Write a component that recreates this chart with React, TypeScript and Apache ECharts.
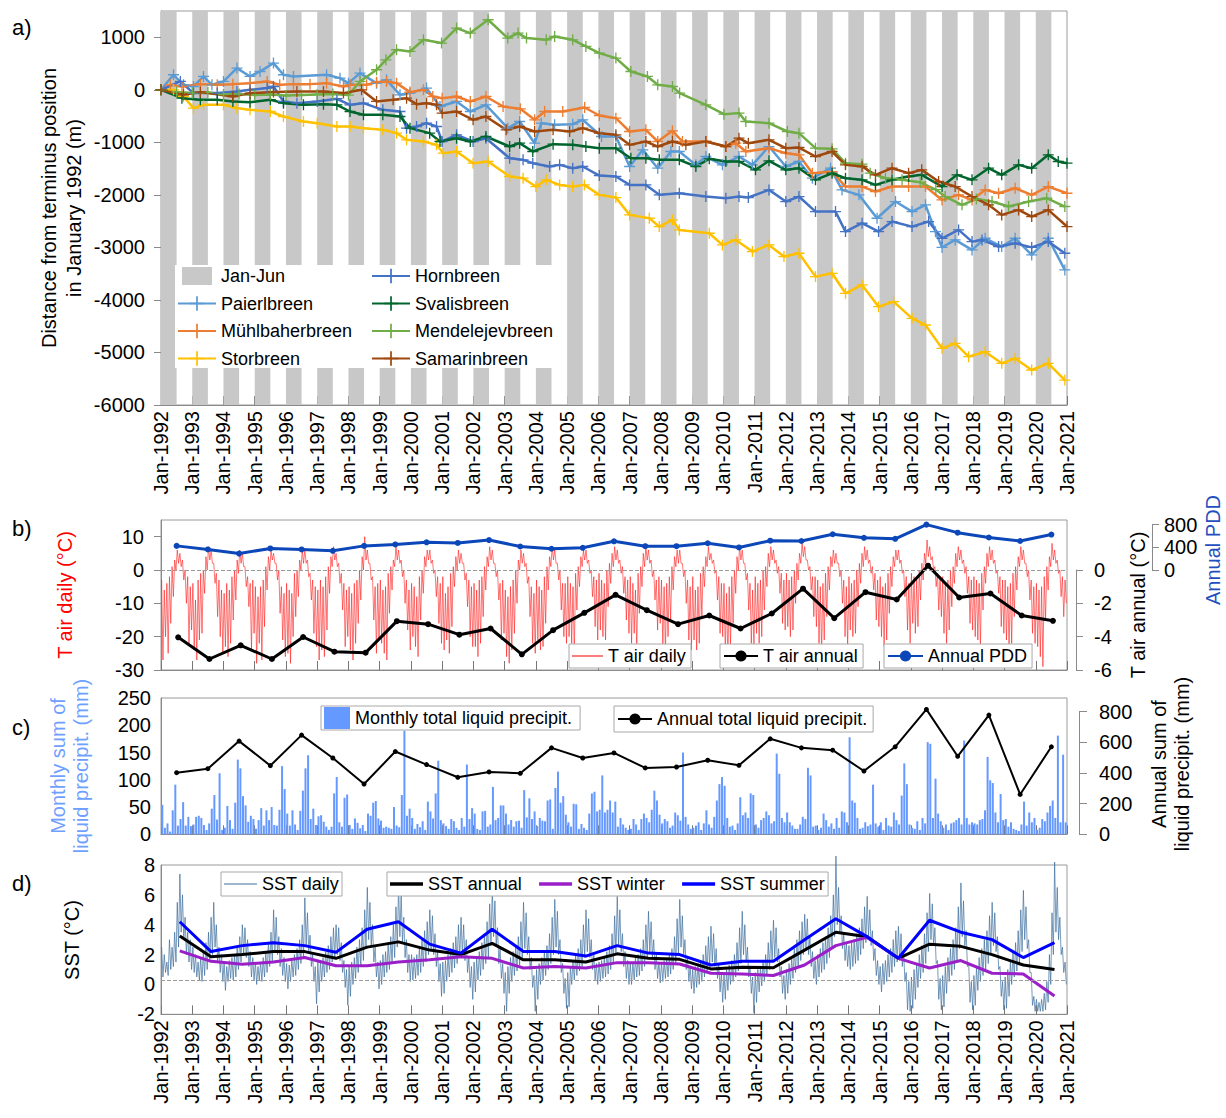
import React, { useEffect, useRef } from 'react';
import * as echarts from 'echarts';

const FONT = '"Liberation Sans", Arial, Helvetica, sans-serif';
const W = 1226;
const H = 1118;
const PLOT_LEFT = 161;
const PLOT_RIGHT = 1067;

// ---------- panel a: terminus positions (m, relative to Jan 1992) ----------
const shadeYears = Array.from({ length: 29 }, (_, i) => 1992 + i);

const paierlbreen = [[1992,0],[1992.4,286],[1992.72,95],[1993.04,63],[1993.36,254],[1993.63,95],[1994,159],[1994.43,413],[1994.85,254],[1995.17,349],[1995.6,508],[1995.92,286],[1996.24,254],[1997.3,286],[1997.73,222],[1998,127],[1998.37,318],[1998.9,127],[1999.22,190],[1999.65,-95],[1999.97,-63],[2000.5,32],[2000.93,-318],[2001.46,-222],[2001.9,-413],[2002.4,-286],[2003.1,-730],[2003.48,-603],[2003.96,-1016],[2004.17,-635],[2004.6,-667],[2005.18,-654],[2005.5,-571],[2006.1,-889],[2006.56,-889],[2007,-1460],[2007.42,-1143],[2007.9,-1492],[2008.32,-1175],[2008.59,-1175],[2009.12,-1429],[2009.44,-1270],[2009.97,-1429],[2010.5,-1270],[2010.93,-1429],[2011.46,-1080],[2012,-1460],[2012.42,-1365],[2012.85,-1683],[2013.43,-1492],[2013.8,-1905],[2014.34,-2000],[2014.92,-2445],[2015.51,-2127],[2016.04,-2318],[2016.47,-2190],[2016.79,-2700],[2017,-3000],[2017.42,-2858],[2017.96,-3048],[2018.38,-2826],[2018.91,-2985],[2019.34,-2826],[2019.87,-3143],[2020.4,-2826],[2020.93,-3429]];
const muhlbaherbreen = [[1992,0],[1992.3,95],[1992.67,63],[1993.26,108],[1993.8,95],[1994.3,108],[1994.85,127],[1995.4,159],[1995.8,95],[1996.24,108],[1996.77,108],[1997.3,127],[1997.84,63],[1998.05,95],[1998.58,95],[1998.9,146],[1999.22,159],[1999.54,127],[1999.97,-44],[2000.4,0],[2000.7,-127],[2001,-159],[2001.46,-127],[2001.9,-222],[2002.4,-127],[2002.95,-318],[2003.5,-362],[2003.96,-571],[2004.28,-413],[2004.86,-413],[2005.56,-337],[2006.03,-489],[2006.56,-540],[2007,-794],[2007.52,-762],[2007.9,-984],[2008.37,-781],[2008.69,-984],[2009.44,-984],[2010.08,-1080],[2010.4,-1016],[2010.72,-1175],[2011.46,-1111],[2012,-1207],[2012.42,-1238],[2012.85,-1588],[2013.48,-1556],[2013.91,-1842],[2014.44,-1842],[2014.87,-1937],[2015.4,-1842],[2015.93,-1842],[2016.47,-1842],[2017,-2096],[2017.53,-2000],[2017.96,-2096],[2018.38,-1905],[2018.81,-1969],[2019.34,-1873],[2019.87,-2000],[2020.4,-1842],[2021,-1969]];
const storbreen = [[1992,0],[1992.4,0],[1992.72,-127],[1993.04,-349],[1993.36,-286],[1994,-286],[1994.43,-349],[1994.85,-381],[1995.5,-413],[1995.92,-508],[1996.56,-603],[1997,-635],[1997.63,-698],[1998.05,-698],[1998.48,-730],[1999.1,-762],[1999.54,-825],[1999.86,-952],[2000.4,-984],[2000.82,-1048],[2001.04,-1207],[2001.46,-1175],[2001.99,-1397],[2002.47,-1365],[2003.16,-1651],[2003.59,-1683],[2004,-1842],[2004.33,-1714],[2004.76,-1810],[2005.18,-1842],[2005.55,-1810],[2006.03,-2000],[2006.56,-2051],[2007,-2381],[2007.63,-2445],[2007.95,-2604],[2008.37,-2477],[2008.59,-2667],[2009.55,-2731],[2009.97,-2953],[2010.4,-2858],[2010.93,-3080],[2011.46,-2953],[2011.94,-3175],[2012.42,-3112],[2012.95,-3556],[2013.48,-3493],[2013.91,-3874],[2014.44,-3715],[2014.97,-4128],[2015.45,-4033],[2016.04,-4350],[2016.47,-4477],[2017,-4922],[2017.42,-4826],[2017.85,-5080],[2018.38,-4985],[2018.91,-5207],[2019.34,-5112],[2019.87,-5334],[2020.4,-5207],[2020.93,-5525]];
const hornbreen = [[1992,0],[1992.62,159],[1993.04,-63],[1993.8,-63],[1994.43,-32],[1994.85,0],[1995.4,32],[1995.6,63],[1995.92,-222],[1996.35,-254],[1997,-222],[1997.63,-171],[1998.05,-286],[1998.48,-254],[1999.1,-381],[1999.65,-413],[1999.86,-730],[2000.18,-698],[2000.5,-635],[2000.82,-698],[2001,-984],[2001.46,-857],[2001.99,-984],[2002.4,-921],[2003.16,-1302],[2003.59,-1333],[2003.9,-1397],[2004.44,-1460],[2004.76,-1429],[2005.18,-1492],[2005.5,-1460],[2006.03,-1632],[2006.56,-1651],[2007,-1810],[2007.52,-1810],[2007.95,-2000],[2008.59,-1969],[2009.44,-2032],[2010.08,-2064],[2010.5,-2032],[2010.8,-2051],[2011.46,-1905],[2012,-2127],[2012.42,-2032],[2012.95,-2318],[2013.59,-2318],[2013.91,-2699],[2014.44,-2540],[2014.97,-2699],[2015.4,-2508],[2016.04,-2604],[2016.57,-2508],[2017,-2826],[2017.53,-2667],[2017.96,-2890],[2018.28,-2858],[2018.81,-2985],[2019.34,-2921],[2019.87,-3000],[2020.4,-2890],[2020.93,-3112]];
const svalisbreen = [[1992,0],[1992.67,-159],[1993.26,-190],[1993.8,-190],[1994.3,-222],[1994.85,-235],[1995.5,-190],[1995.92,-254],[1996.56,-286],[1997.2,-273],[1997.63,-286],[1998.05,-413],[1998.48,-476],[1999.1,-476],[1999.65,-508],[1999.97,-730],[2000.6,-825],[2000.93,-984],[2001.46,-921],[2001.9,-984],[2002.4,-889],[2003.16,-1080],[2003.48,-1016],[2003.9,-1175],[2004.55,-1035],[2005.18,-1048],[2005.6,-1080],[2006.03,-1111],[2006.56,-1111],[2007.04,-1302],[2007.52,-1302],[2007.95,-1333],[2008.59,-1333],[2009.12,-1460],[2009.55,-1314],[2010.08,-1365],[2010.5,-1365],[2011.03,-1524],[2011.46,-1352],[2012,-1524],[2012.42,-1492],[2012.95,-1714],[2013.48,-1588],[2013.91,-1683],[2014.44,-1714],[2014.87,-1810],[2015.4,-1714],[2015.93,-1651],[2016.35,-1619],[2017,-1842],[2017.48,-1619],[2017.96,-1714],[2018.49,-1492],[2018.91,-1619],[2019.45,-1429],[2019.87,-1492],[2020.4,-1238],[2020.72,-1365],[2021,-1397]];
const mendelejevbreen = [[1992,0],[1992.5,-40],[1993,-60],[1993.5,-50],[1994,-90],[1994.5,-80],[1995,-100],[1995.5,-90],[1996,-110],[1996.5,-100],[1997,-90],[1997.5,-80],[1998,-100],[1998.37,159],[1998.9,381],[1999.2,571],[1999.54,762],[1999.97,730],[2000.4,952],[2000.98,889],[2001.46,1175],[2001.9,1080],[2002.47,1333],[2003.1,984],[2003.43,1080],[2003.7,984],[2004.33,952],[2004.6,1016],[2005.18,952],[2005.6,825],[2006.03,698],[2006.56,603],[2007.04,349],[2007.57,254],[2007.9,95],[2008.37,63],[2008.6,-63],[2009.44,-286],[2010.02,-464],[2010.5,-444],[2010.72,-603],[2011.46,-635],[2012.05,-794],[2012.42,-825],[2012.95,-1111],[2013.48,-1124],[2013.91,-1397],[2014.44,-1416],[2014.7,-1587],[2015.19,-1683],[2015.72,-1714],[2016.3,-1760],[2016.8,-1900],[2017.1,-2032],[2017.64,-2190],[2018.1,-2080],[2018.6,-2127],[2019.13,-2222],[2019.77,-2127],[2020.35,-2064],[2020.93,-2222]];
const samarinbreen = [[1992,0],[1992.72,-95],[1993.26,-44],[1994.3,-127],[1994.85,-63],[1995.6,-44],[1996.35,-32],[1997.2,-32],[1997.84,-63],[1998.42,0],[1998.9,-222],[1999.43,-190],[1999.86,-159],[2000.18,-273],[2000.5,-254],[2000.82,-286],[2001,-444],[2001.46,-413],[2001.99,-571],[2002.4,-508],[2003.05,-762],[2003.48,-698],[2003.96,-794],[2004.55,-762],[2005.08,-794],[2005.5,-730],[2006.03,-825],[2006.56,-857],[2007,-1048],[2007.52,-984],[2007.9,-1080],[2008.37,-984],[2008.8,-1048],[2009.44,-984],[2010.08,-1080],[2010.5,-921],[2010.8,-1016],[2011.46,-952],[2012,-1111],[2012.42,-1099],[2012.95,-1270],[2013.48,-1175],[2013.91,-1429],[2014.44,-1460],[2014.87,-1619],[2015.4,-1492],[2015.93,-1587],[2016.35,-1524],[2016.89,-1746],[2017.42,-1842],[2017.96,-2032],[2018.49,-2190],[2018.91,-2381],[2019.45,-2286],[2019.87,-2413],[2020.4,-2286],[2021,-2603]];

// ---------- panel b: air temperature ----------
// two readings per month (high, low), Jan 1992 .. Dec 2020
const tAirDaily = [
  -3,-27,-6,-20,-4,-25,-2,-16,1,-8,3,0,6,2,5,1,3,-3,0,-10,-2,-22,-5,-18,
  -4,-24,-9,-27,-3,-21,-1,-19,0,-7,4,0,7,3,6,2,2,-4,-1,-14,-3,-20,-6,-25,
  -7,-23,-4,-26,-6,-22,-2,-15,0,-9,3,-1,6,2,5,1,1,-5,-2,-11,-4,-24,-3,-19,
  -5,-28,-8,-22,-5,-27,-3,-17,1,-6,4,0,6,3,5,2,2,-3,0,-13,-5,-21,-7,-26,
  -4,-25,-6,-28,-7,-20,-1,-14,0,-8,3,0,6,2,6,2,3,-2,-1,-9,-3,-19,-5,-23,
  -6,-27,-3,-24,-5,-26,-2,-18,1,-7,4,1,7,3,5,1,2,-4,-1,-12,-4,-23,-6,-20,
  -5,-24,-7,-27,-4,-22,-3,-16,0,-9,4,0,10,3,6,2,2,-3,-2,-15,-5,-25,-4,-21,
  -3,-22,-6,-25,-5,-27,-1,-13,1,-6,3,1,7,3,6,2,3,-2,0,-10,-3,-18,-6,-24,
  -4,-20,-5,-23,-8,-26,-2,-15,0,-7,4,1,6,3,6,2,3,-1,0,-8,-2,-16,-4,-22,
  -2,-24,-7,-21,-5,-25,-1,-17,1,-5,4,0,6,2,5,2,2,-3,-1,-11,-3,-20,-5,-23,
  -4,-23,-6,-26,-3,-22,-2,-14,1,-6,4,1,7,3,6,2,2,-2,0,-9,-4,-21,-3,-19,
  -6,-26,-8,-28,-5,-24,-3,-19,0,-10,3,0,6,2,5,1,2,-4,-2,-14,-5,-22,-7,-25,
  -3,-21,-5,-24,-6,-23,-2,-16,1,-6,4,1,7,3,6,2,2,-3,0,-12,-4,-20,-4,-22,
  -2,-20,-4,-22,-5,-25,-1,-12,1,-5,4,1,6,3,6,2,3,-1,0,-8,-2,-17,-3,-21,
  -1,-18,-3,-20,-4,-21,0,-11,2,-4,5,1,7,3,6,2,3,-1,1,-7,-2,-15,-3,-19,
  -2,-22,-4,-19,-6,-24,-1,-13,1,-5,5,1,7,3,6,2,3,-2,0,-9,-3,-18,-2,-16,
  -3,-23,-5,-25,-4,-20,-2,-15,1,-6,4,1,6,2,6,2,2,-2,0,-10,-3,-21,-5,-24,
  -2,-21,-6,-24,-5,-22,-1,-14,1,-5,4,1,7,3,5,2,3,-1,0,-9,-2,-19,-4,-20,
  -4,-25,-7,-27,-5,-23,-2,-16,0,-7,4,0,7,3,6,2,2,-3,-1,-12,-4,-22,-6,-24,
  -2,-19,-4,-22,-3,-20,0,-12,1,-5,5,1,7,3,6,2,3,-1,1,-7,-1,-16,-3,-18,
  -1,-17,-3,-20,-2,-18,0,-10,2,-3,5,2,8,4,7,3,3,0,1,-6,-2,-14,-2,-17,
  -3,-22,-5,-25,-4,-21,-1,-14,1,-6,4,1,6,2,5,2,2,-2,0,-10,-3,-20,-5,-23,
  -2,-18,-4,-20,-3,-19,0,-11,2,-4,5,1,7,3,6,2,3,-1,1,-6,-1,-15,-3,-17,
  -2,-20,-5,-23,-4,-21,-1,-13,1,-5,4,1,6,3,6,2,3,-1,0,-8,-2,-18,-4,-22,
  -1,-16,-2,-19,-3,-17,0,-9,2,-3,5,2,9,4,7,3,4,0,1,-5,-1,-12,-2,-14,
  -2,-19,-4,-22,-3,-18,0,-11,1,-4,5,1,7,3,6,2,3,-1,1,-7,-2,-16,-3,-18,
  -2,-20,-3,-21,-4,-23,-1,-12,1,-4,5,1,7,3,6,2,3,-1,0,-7,-2,-17,-3,-19,
  -3,-21,-5,-24,-4,-22,-1,-14,1,-6,4,1,7,3,6,2,2,-2,0,-9,-3,-19,-5,-22,
  -4,-23,-6,-26,-5,-29,-2,-15,1,-6,4,1,8,3,6,2,3,-1,0,-8,-2,-14,-3,-10,
];
const annualYears = Array.from({ length: 29 }, (_, i) => 1992 + i);
const tAirAnnual = [-4.04,-5.34,-4.52,-5.34,-4.02,-4.9,-4.96,-3.07,-3.25,-3.88,-3.51,-5.06,-3.61,-2.57,-1.49,-2.41,-3.25,-2.73,-3.51,-2.61,-1.12,-2.89,-1.33,-1.77,0.26,-1.65,-1.41,-2.73,-3.05];
const annualPdd = [425,362,289,380,362,338,425,450,488,477,528,414,374,391,505,420,420,471,397,516,511,630,567,550,800,658,573,511,624];

// ---------- panel c: liquid precipitation ----------
const monthlyPrecip = [
  54,12,20,5,44,91,16,28,59,16,32,15,
  18,32,34,30,17,8,20,47,72,27,112,8,
  12,52,26,10,58,137,121,70,53,23,34,28,
  10,26,48,16,44,26,50,17,16,45,125,83,
  38,16,44,18,8,43,80,121,145,28,47,17,
  33,35,23,14,8,14,75,105,22,14,67,73,
  17,10,29,21,11,17,6,38,34,58,61,29,
  25,12,14,12,10,50,16,13,72,190,34,47,
  30,10,19,13,24,8,60,42,29,75,135,26,
  20,15,10,28,24,12,8,30,14,128,28,48,
  38,10,8,42,43,14,18,87,26,30,53,53,
  38,18,26,14,24,25,12,81,31,66,28,42,
  15,30,25,24,62,64,10,85,115,58,70,36,
  22,14,56,55,10,19,12,8,38,75,78,42,
  45,108,40,45,62,40,60,14,30,18,12,8,
  10,28,18,8,28,38,30,22,45,80,62,36,
  20,28,24,12,16,40,35,25,150,32,18,10,
  12,16,22,8,20,44,18,12,32,62,92,105,
  89,30,14,16,8,20,68,35,40,30,75,72,
  18,12,26,30,42,35,20,24,148,111,30,22,
  40,22,16,10,10,18,32,28,122,108,14,16,
  8,12,38,26,14,20,10,30,12,42,40,22,
  178,62,58,30,10,12,22,15,18,91,20,14,
  22,8,30,16,14,40,26,18,71,130,92,18,
  12,10,24,8,30,20,169,166,30,102,38,24,
  12,18,8,20,22,26,30,18,172,30,18,22,
  20,18,26,28,44,142,99,94,40,22,74,26,
  28,14,22,10,8,6,18,60,16,40,22,30,
  8,12,28,24,40,52,62,30,181,22,146,22,
];
const annualPrecip = [402,428,608,448,647,498,328,540,455,372,407,398,564,498,531,433,439,483,450,623,564,549,413,571,815,509,778,260,571];

// ---------- panel d: sea surface temperature ----------
// two readings per month (high, low), Jan 1992 .. Dec 2020
const sstDaily = [
  2.5,0.5,2.0,0.8,1.5,0.6,3.0,1.0,2.5,1.2,3.5,1.5,5.5,2.5,7.4,3.5,6.0,3.0,4.5,2.0,3.5,1.5,3.0,1.0,
  2.5,0.8,2.0,0.5,1.5,0.3,1.8,0.2,2.2,0.6,2.8,1.0,3.5,1.5,4.5,2.0,5.5,2.5,4.0,1.5,2.5,0.8,2.0,0.2,
  1.5,-0.4,1.2,0.2,1.6,0.4,1.8,0.3,2.0,0.5,2.5,1.0,3.2,1.5,4.0,2.0,3.8,1.8,3.0,1.2,2.2,0.5,1.8,0.3,
  1.5,0.0,1.2,0.3,1.5,0.2,1.8,0.5,2.2,0.8,2.8,1.2,3.5,1.5,5.0,2.2,4.5,2.0,3.2,1.2,2.4,0.6,1.8,0.2,
  1.4,-0.3,1.3,0.2,1.7,0.5,2.0,0.6,2.4,1.0,3.0,1.4,4.0,1.8,5.8,2.6,4.8,2.2,3.3,1.2,2.0,0.2,1.2,-1.3,
  1.5,-0.5,1.6,0.2,1.8,0.5,2.2,0.8,2.6,1.0,3.2,1.5,3.8,1.8,4.0,2.0,3.8,1.6,2.8,0.8,1.6,-0.2,1.0,-1.4,
  1.2,-0.8,1.5,0.0,1.8,0.4,2.5,0.8,3.0,1.2,3.8,1.6,5.0,2.4,6.5,3.0,5.5,2.6,4.0,1.5,2.5,0.5,1.5,-0.3,
  1.6,0.0,2.0,0.5,2.2,0.8,2.8,1.0,3.2,1.4,4.0,1.8,5.2,2.5,6.6,3.2,6.0,2.8,4.5,1.8,3.0,0.8,2.0,0.2,
  2.0,0.3,1.8,0.4,2.0,0.6,2.5,0.8,3.0,1.2,3.6,1.5,4.2,2.0,5.0,2.4,4.6,2.0,3.4,1.2,2.2,0.2,1.4,-0.8,
  1.5,-0.6,1.6,0.2,2.0,0.5,2.4,0.8,2.8,1.1,3.2,1.4,4.0,1.8,4.5,2.0,4.0,1.6,3.0,0.8,1.8,-0.2,1.2,-1.0,
  1.5,-0.5,1.8,0.3,2.2,0.6,2.8,1.0,3.4,1.4,4.2,1.8,5.4,2.6,6.5,3.2,5.6,2.6,3.8,1.4,2.4,0.4,1.4,-0.6,
  0.8,-1.8,1.2,-0.6,1.8,0.2,2.2,0.6,2.6,0.9,3.2,1.3,4.2,1.8,5.5,2.4,4.8,2.0,3.2,1.0,1.8,-0.2,0.6,-1.8,
  1.0,-1.0,1.4,0.0,1.8,0.3,2.2,0.6,2.6,1.0,3.4,1.4,4.5,2.0,5.7,2.5,4.9,2.0,3.0,0.8,1.4,-0.6,0.4,-1.6,
  0.8,-1.5,1.2,0.0,1.6,0.3,2.0,0.6,2.4,0.9,3.0,1.2,4.0,1.8,5.0,2.2,4.4,1.8,3.0,1.0,2.0,0.3,1.4,0.0,
  1.5,0.2,1.6,0.4,1.8,0.5,2.2,0.7,2.6,1.0,3.4,1.4,4.6,2.0,5.9,2.6,5.0,2.2,3.4,1.2,2.2,0.4,1.6,0.0,
  1.4,0.0,1.5,0.3,1.8,0.5,2.0,0.6,2.4,0.9,3.0,1.2,4.0,1.8,4.9,2.2,4.2,1.8,3.0,1.0,2.0,0.4,1.5,0.1,
  1.5,0.2,1.6,0.4,1.8,0.5,2.0,0.7,2.4,1.0,3.2,1.4,4.4,2.0,5.7,2.5,4.6,2.0,3.0,1.0,1.8,0.2,1.2,-0.3,
  1.0,-0.6,1.2,-0.2,1.4,0.0,1.6,0.2,2.0,0.5,2.6,0.8,3.2,1.2,3.9,1.5,3.4,1.2,2.4,0.4,1.4,-0.5,0.8,-1.2,
  0.8,-1.0,1.0,-0.4,1.3,0.0,1.6,0.2,2.0,0.5,2.8,0.9,3.8,1.4,4.9,2.0,4.0,1.5,2.5,0.5,1.2,-0.6,0.5,-1.9,
  0.8,-1.2,1.0,-0.5,1.2,-0.1,1.6,0.2,2.0,0.6,2.8,1.0,3.6,1.5,4.3,1.8,3.8,1.5,2.4,0.5,1.2,-0.6,0.6,-1.0,
  1.0,-0.6,1.4,0.0,1.8,0.4,2.4,0.8,3.0,1.2,3.6,1.6,4.2,2.0,4.7,2.4,4.4,2.0,3.2,1.2,2.2,0.4,1.6,0.0,
  2.0,0.5,2.4,0.8,2.8,1.0,3.2,1.4,3.8,1.8,4.6,2.4,6.0,3.2,8.6,4.0,6.5,3.4,4.6,2.4,3.4,1.6,2.8,1.2,
  2.6,1.0,2.8,1.2,3.0,1.4,3.4,1.6,3.8,2.0,4.4,2.4,5.2,2.8,5.9,3.2,5.0,2.6,3.6,1.6,2.4,0.6,1.6,0.0,
  1.2,-0.5,1.4,0.0,1.6,0.2,2.0,0.5,2.4,0.8,3.0,1.2,3.6,1.5,3.9,1.6,3.4,1.2,2.2,0.2,0.8,-1.7,0.2,-1.8,
  0.5,-1.6,1.0,-1.0,1.4,-0.2,2.0,0.4,2.6,0.8,3.4,1.4,4.8,2.2,6.1,3.0,5.4,2.6,3.8,1.4,1.6,-1.0,0.4,-1.7,
  0.6,-1.5,1.2,-0.6,1.8,0.2,2.4,0.6,3.0,1.0,3.8,1.6,5.2,2.4,6.8,3.2,5.6,2.6,3.6,1.2,1.4,-1.2,0.2,-1.7,
  0.6,-1.4,1.2,-0.4,1.8,0.2,2.4,0.6,3.0,1.0,3.6,1.4,4.6,2.0,5.5,2.6,4.8,2.2,3.2,1.0,1.2,-0.8,0.2,-1.7,
  0.5,-1.6,1.0,-0.8,1.6,0.0,2.2,0.5,2.8,0.9,3.6,1.4,5.0,2.2,6.3,3.0,5.2,2.4,3.0,0.8,0.8,-1.4,-0.8,-1.8,
  -1.0,-1.8,-1.2,-1.8,-1.0,-1.8,-0.6,-1.7,0.2,-1.2,2.0,0.0,4.8,2.0,8.2,3.5,6.5,3.0,4.5,2.0,2.5,0.8,1.5,0.0,
];
const sstAnnual = [3.25,1.85,2.0,2.2,2.2,1.75,2.5,2.85,2.3,2.0,2.75,1.65,1.65,1.5,2.05,1.75,1.68,1.04,1.15,1.12,2.3,3.5,3.2,1.75,2.7,2.55,2.0,1.3,1.0];
const sstWinter = [2.25,1.55,1.35,1.5,1.8,1.25,1.25,1.5,1.65,1.85,1.75,1.1,1.2,1.1,1.46,1.46,1.37,0.75,0.7,0.6,1.3,2.6,3.15,1.75,1.1,1.6,0.75,0.7,-0.77];
const sstSummer = [4.2,2.2,2.6,2.8,2.6,2.15,3.7,4.2,2.7,2.1,3.7,2.2,2.2,1.9,2.6,2.1,2.0,1.3,1.55,1.55,3.0,4.4,3.2,1.75,4.3,3.5,3.0,1.8,2.8];

// ---------- styling / layout ----------
const PLUS = 'path://M4.4,0H5.6V4.4H10V5.6H5.6V10H4.4V5.6H0V4.4H4.4Z';
const THIN_LINE_ICON = 'path://M0,0H30V1H0Z';
const THICK_LINE_ICON = 'path://M0,0H30V3H0Z';
const glacierColors: Record<string, string> = {
  Paierlbreen: '#5b9bd5',
  'Mühlbaherbreen': '#ed7d31',
  Storbreen: '#ffc000',
  Hornbreen: '#4472c4',
  Svalisbreen: '#00642d',
  Mendelejevbreen: '#70ad47',
  Samarinbreen: '#9e480e',
};
const glacierData: Record<string, number[][]> = {
  Paierlbreen: paierlbreen,
  'Mühlbaherbreen': muhlbaherbreen,
  Storbreen: storbreen,
  Hornbreen: hornbreen,
  Svalisbreen: svalisbreen,
  Mendelejevbreen: mendelejevbreen,
  Samarinbreen: samarinbreen,
};

const GRIDS = [
  { top: 11, height: 394, border: true },      // 0 a
  { top: 520, height: 150, border: true },     // 1 b main
  { top: 570, height: 100, border: false },    // 2 b annual T
  { top: 524.6, height: 45.4, border: false }, // 3 b PDD
  { top: 698, height: 136.3, border: true },   // 4 c main
  { top: 711.7, height: 122.6, border: false },// 5 c annual
  { top: 865, height: 149.3, border: true },   // 6 d
];

function buildOption() {
  const grid = GRIDS.map((g) => ({
    left: PLOT_LEFT,
    width: PLOT_RIGHT - PLOT_LEFT,
    top: g.top,
    height: g.height,
    show: g.border,
    borderColor: '#9a9a9a',
    borderWidth: 1,
    backgroundColor: 'transparent',
    containLabel: false,
    outerBoundsMode: 'none',
  }));

  const xAxis = GRIDS.map((g, i) => {
    const visible = g.border;
    const labels = i === 0 || i === 6;
    return {
      type: 'value',
      gridIndex: i,
      min: 1992,
      max: 2021,
      interval: 1,
      show: visible,
      axisLine: { show: true, onZero: false, lineStyle: { color: '#8a8a8a', width: 1 } },
      axisTick: { show: true, inside: true, length: 9, lineStyle: { color: '#777' } },
      axisLabel: {
        show: labels,
        rotate: 90,
        fontSize: 20,
        fontFamily: FONT,
        color: '#000',
        margin: 6,
        formatter: (v: number) => 'Jan-' + v,
      },
      splitLine: { show: false },
    };
  });

  const lab = (margin: number, extra: any = {}) => ({
    fontSize: 20,
    fontFamily: FONT,
    color: '#000',
    margin,
    formatter: (v: number) => String(v),
    ...extra,
  });
  const axLine = { show: true, onZero: false, lineStyle: { color: '#8a8a8a', width: 1 } };
  const tick = (len: number) => ({ show: true, length: len, lineStyle: { color: '#8a8a8a' } });

  const yAxis = [
    {
      type: 'value', gridIndex: 0, min: -6000, max: 1500, interval: 1000,
      axisLine: axLine, axisTick: tick(7),
      axisLabel: lab(16, { showMaxLabel: false }), splitLine: { show: false },
    },
    {
      type: 'value', gridIndex: 1, min: -30, max: 15, interval: 10,
      axisLine: axLine, axisTick: tick(7),
      axisLabel: lab(17, { showMaxLabel: false }), splitLine: { show: false },
    },
    {
      type: 'value', gridIndex: 2, min: -6, max: 0, interval: 2, position: 'right', offset: 9,
      axisLine: axLine, axisTick: tick(7),
      axisLabel: lab(18), splitLine: { show: false },
    },
    {
      type: 'value', gridIndex: 3, min: 0, max: 800, interval: 400, position: 'right', offset: 85,
      axisLine: axLine, axisTick: tick(7),
      axisLabel: lab(12), splitLine: { show: false },
    },
    {
      type: 'value', gridIndex: 4, min: 0, max: 250, interval: 50,
      axisLine: axLine, axisTick: { show: false },
      axisLabel: lab(10), splitLine: { show: false },
    },
    {
      type: 'value', gridIndex: 5, min: 0, max: 800, interval: 200, position: 'right', offset: 12,
      axisLine: axLine, axisTick: tick(8),
      axisLabel: lab(20), splitLine: { show: false },
    },
    {
      type: 'value', gridIndex: 6, min: -2, max: 8, interval: 2,
      axisLine: axLine, axisTick: { show: false },
      axisLabel: lab(6), splitLine: { show: false },
    },
  ];

  const legText = { fontSize: 18, fontFamily: FONT, color: '#000', lineHeight: 20 };
  const boxed = {
    borderColor: '#a8a8a8',
    borderWidth: 1,
    backgroundColor: '#fff',
    padding: [2, 5, 2, 3],
    itemHeight: 14,
    textStyle: legText,
    selectedMode: false,
    orient: 'horizontal',
    z: 5,
  };
  const legend = [
    {
      data: [{ name: 'Jan-Jun', icon: 'path://M0,0H30V18H0Z' }, 'Paierlbreen', 'Mühlbaherbreen', 'Storbreen'],
      orient: 'vertical', left: 177, top: 266, itemWidth: 38, itemHeight: 18, itemGap: 7.5,
      padding: 0, textStyle: legText, selectedMode: false, z: 5,
    },
    {
      data: ['Hornbreen', 'Svalisbreen', 'Mendelejevbreen', 'Samarinbreen'],
      orient: 'vertical', left: 371, top: 266, itemWidth: 38, itemHeight: 18, itemGap: 7.5,
      padding: 0, textStyle: legText, selectedMode: false, z: 5,
    },
    { ...boxed, data: [{ name: 'T air daily', icon: THIN_LINE_ICON }], left: 569, top: 644, itemWidth: 31 },
    { ...boxed, data: ['T air annual'], left: 720, top: 644, itemWidth: 34 },
    { ...boxed, data: ['Annual PDD'], left: 884, top: 644, itemWidth: 35 },
    { ...boxed, data: [{ name: 'Monthly total liquid precipit.', icon: 'rect' }], left: 321, top: 706, itemWidth: 26, itemHeight: 22, padding: [1, 8, 1, 3] },
    { ...boxed, data: ['Annual total liquid precipit.'], left: 614, top: 706, itemWidth: 34, padding: [3, 6, 3, 3] },
    { ...boxed, data: [{ name: 'SST daily', icon: THIN_LINE_ICON }], left: 221, top: 872, itemWidth: 33, padding: [2, 3, 2, 3] },
    {
      ...boxed,
      data: [
        { name: 'SST annual', icon: THICK_LINE_ICON },
        { name: 'SST winter', icon: THICK_LINE_ICON },
        { name: 'SST summer', icon: THICK_LINE_ICON },
      ],
      left: 387, top: 872, itemWidth: 33, itemGap: 17, padding: [2, 3, 2, 3],
    },
  ];

  const txt = (text: string, x: number, y: number, opts: any = {}) => ({
    type: 'text',
    x,
    y,
    rotation: opts.rotate ? Math.PI / 2 : 0,
    z: 10,
    silent: true,
    style: {
      text,
      fill: opts.color || '#000',
      font: `${opts.size || 20}px ${FONT}`,
      align: opts.align || 'center',
      verticalAlign: 'middle',
      lineHeight: opts.lh || 24,
    },
  });

  const graphic = [
    { type: 'rect', shape: { x: 175, y: 265, width: 392, height: 103 }, style: { fill: '#fff' }, z: 3, silent: true },
    txt('a)', 12, 27, { align: 'left', size: 22 }),
    txt('b)', 12, 528, { align: 'left', size: 22 }),
    txt('c)', 12, 727, { align: 'left', size: 22 }),
    txt('d)', 12, 883, { align: 'left', size: 22 }),
    txt('Distance from terminus position\nin January 1992 (m)', 61, 208, { rotate: true, lh: 25 }),
    txt('T air daily (°C)', 65, 595, { rotate: true, color: '#ff0000' }),
    txt('T air annual (°C)', 1138, 605, { rotate: true }),
    txt('Annual PDD', 1213, 550, { rotate: true, color: '#1f4fbf' }),
    txt('Monthly sum of\nliquid precipit. (mm)', 69, 766, { rotate: true, color: '#6f9fff', lh: 23 }),
    txt('Annual sum of\nliquid precipit. (mm)', 1170, 764, { rotate: true, lh: 23 }),
    txt('SST (°C)', 72, 940, { rotate: true }),
  ];

  const glacierSeries = Object.keys(glacierData).map((name) => ({
    type: 'line',
    name,
    xAxisIndex: 0,
    yAxisIndex: 0,
    data: glacierData[name],
    symbol: PLUS,
    symbolSize: 11,
    showSymbol: true,
    color: glacierColors[name],
    lineStyle: { width: 2.5, color: glacierColors[name] },
    itemStyle: { color: glacierColors[name] },
    z: 2,
  }));

  const series: any[] = [
    {
      type: 'custom',
      name: 'Jan-Jun',
      xAxisIndex: 0,
      yAxisIndex: 0,
      z: 1,
      silent: true,
      color: '#c8c8c8',
      itemStyle: { color: '#c8c8c8' },
      data: shadeYears.map((y) => [y, 0]),
      encode: { x: 0, y: 1 },
      renderItem: (_p: any, api: any) => {
        const y0 = api.value(0);
        const a = api.coord([y0, 1500]);
        const b = api.coord([y0 + 0.5, -6000]);
        return {
          type: 'rect',
          shape: { x: a[0], y: a[1], width: b[0] - a[0], height: b[1] - a[1] },
          style: { fill: '#c8c8c8' },
        };
      },
    },
    ...glacierSeries,
    {
      type: 'line',
      name: 'T air daily',
      xAxisIndex: 1,
      yAxisIndex: 1,
      data: tAirDaily.map((v, i) => [1992 + (i + 0.5) / 24, v]),
      symbol: 'none',
      color: '#ff0000',
      lineStyle: { width: 0.6, color: '#ff1a1a' },
      markLine: {
        silent: true,
        symbol: 'none',
        label: { show: false },
        lineStyle: { color: '#9a9a9a', type: 'dashed', width: 1 },
        data: [{ yAxis: 0 }],
      },
      z: 2,
    },
    {
      type: 'line',
      name: 'T air annual',
      xAxisIndex: 2,
      yAxisIndex: 2,
      data: tAirAnnual.map((v, i) => [annualYears[i] + 0.55, v]),
      symbol: 'circle',
      symbolSize: 6,
      color: '#000',
      lineStyle: { width: 3, color: '#000' },
      clip: false,
      z: 3,
    },
    {
      type: 'line',
      name: 'Annual PDD',
      xAxisIndex: 3,
      yAxisIndex: 3,
      data: annualPdd.map((v, i) => [annualYears[i] + 0.5, v]),
      symbol: 'circle',
      symbolSize: 6,
      color: '#0b47b8',
      lineStyle: { width: 3, color: '#0b47b8' },
      clip: false,
      z: 3,
    },
    {
      type: 'bar',
      name: 'Monthly total liquid precipit.',
      xAxisIndex: 4,
      yAxisIndex: 4,
      data: monthlyPrecip.map((v, i) => [1992 + (i + 0.5) / 12, v]),
      barWidth: 2,
      color: '#6699ff',
      itemStyle: { color: '#6699ff' },
      z: 2,
    },
    {
      type: 'line',
      name: 'Annual total liquid precipit.',
      xAxisIndex: 5,
      yAxisIndex: 5,
      data: annualPrecip.map((v, i) => [annualYears[i] + 0.5, v]),
      symbol: 'circle',
      symbolSize: 5,
      color: '#000',
      lineStyle: { width: 2, color: '#000' },
      clip: false,
      z: 3,
    },
    {
      type: 'line',
      name: 'SST daily',
      xAxisIndex: 6,
      yAxisIndex: 6,
      data: sstDaily.map((v, i) => [1992 + (i + 0.5) / 24, v]),
      symbol: 'none',
      color: '#3e6f9e',
      lineStyle: { width: 0.7, color: '#3e6f9e' },
      clip: false,
      markLine: {
        silent: true,
        symbol: 'none',
        label: { show: false },
        lineStyle: { color: '#9a9a9a', type: 'dashed', width: 1 },
        data: [{ yAxis: 0.3 }],
      },
      z: 2,
    },
    {
      type: 'line', name: 'SST annual', xAxisIndex: 6, yAxisIndex: 6,
      data: sstAnnual.map((v, i) => [annualYears[i] + 0.6, v]),
      symbol: 'none', color: '#000', lineStyle: { width: 3, color: '#000' }, z: 3,
    },
    {
      type: 'line', name: 'SST winter', xAxisIndex: 6, yAxisIndex: 6,
      data: sstWinter.map((v, i) => [annualYears[i] + 0.6, v]),
      symbol: 'none', color: '#9a1fc8', lineStyle: { width: 3, color: '#9a1fc8' }, z: 3,
    },
    {
      type: 'line', name: 'SST summer', xAxisIndex: 6, yAxisIndex: 6,
      data: sstSummer.map((v, i) => [annualYears[i] + 0.6, v]),
      symbol: 'none', color: '#0000ff', lineStyle: { width: 3, color: '#0000ff' }, z: 3,
    },
  ];

  return {
    animation: false,
    backgroundColor: '#ffffff',
    textStyle: { fontFamily: FONT },
    grid,
    xAxis,
    yAxis,
    legend,
    graphic,
    series,
  };
}

export default function App() {
  const ref = useRef<HTMLDivElement>(null);
  useEffect(() => {
    document.body.style.margin = '0';
    if (!ref.current) return;
    const chart = echarts.init(ref.current, undefined, { renderer: 'svg' });
    chart.setOption(buildOption() as any);
    return () => chart.dispose();
  }, []);
  return <div ref={ref} style={{ width: W, height: H }} />;
}
